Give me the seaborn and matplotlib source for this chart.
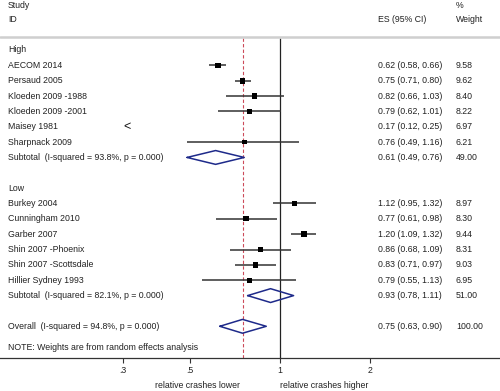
"""
forest plot of relative crash rates, high vs low subgroups
(random effects meta-analysis)
"""

import numpy as np
import pandas as pd
import seaborn as sns
import matplotlib.pyplot as plt
import matplotlib.transforms as mtransforms


# study level data
studies = ["AECOM 2014", "Persaud 2005", "Kloeden 2009 -1988",
           "Kloeden 2009 -2001", "Maisey 1981", "Sharpnack 2009",
           "Burkey 2004", "Cunningham 2010", "Garber 2007",
           "Shin 2007 -Phoenix", "Shin 2007 -Scottsdale", "Hillier Sydney 1993"]
groups = ["High"] * 6 + ["Low"] * 6
es = [0.62, 0.75, 0.82, 0.79, 0.17, 0.76, 1.12, 0.77, 1.20, 0.86, 0.83, 0.79]
lo = [0.58, 0.71, 0.66, 0.62, 0.12, 0.49, 0.95, 0.61, 1.09, 0.68, 0.71, 0.55]
hi = [0.66, 0.80, 1.03, 1.01, 0.25, 1.16, 1.32, 0.98, 1.32, 1.09, 0.97, 1.13]
weight = [9.58, 9.62, 8.40, 8.22, 6.97, 6.21, 8.97, 8.30, 9.44, 8.31, 9.03, 6.95]

# pooled estimates
pool_labels = ["Subtotal  (I-squared = 93.8%, p = 0.000)",
               "Subtotal  (I-squared = 82.1%, p = 0.000)",
               "Overall  (I-squared = 94.8%, p = 0.000)"]
pool_es = [0.61, 0.93, 0.75]
pool_lo = [0.49, 0.78, 0.63]
pool_hi = [0.76, 1.11, 0.90]
pool_weight = [49.00, 51.00, 100.00]

xticks = [0.3, 0.5, 1, 2]
xticklabels = [".3", ".5", "1", "2"]
note = "NOTE: Weights are from random effects analysis"

#############################
# layout parameters
W, H = 500, 391
row_px = 15.35          # pixel height of one row
row0_px = 50            # pixel y of first row
axis_px = 358           # pixel y of x axis line
clip_lo = 0.3           # CI lines clipped here (arrow drawn)
fs = 6.3
#############################

def px2row(p):
    return (p - row0_px) / row_px

def px2val(p):
    return 10 ** ((p - 280) / 300.0)

# build row table
df = pd.DataFrame({"study": studies, "group": groups, "es": es,
                   "lo": lo, "hi": hi, "weight": weight})
rows = []
r = 0
grp_rows = {}
for g in ["High", "Low"]:
    grp_rows[g] = r
    r += 1
    for idx in df.index[df["group"] == g]:
        df.loc[idx, "row"] = r
        r += 1
    rows.append(r)
    r += 2
rows.append(r)  # overall
pool = pd.DataFrame({"label": pool_labels, "es": pool_es, "lo": pool_lo,
                     "hi": pool_hi, "weight": pool_weight, "row": rows})

sns.set_theme(style="white")
plt.rcParams["font.family"] = ["Liberation Sans", "DejaVu Sans"]

fig = plt.figure(figsize=(W / 100, H / 100), dpi=100)
ax = fig.add_axes([0, (H - axis_px) / H, 1, axis_px / H])
ax.set_xscale("log")
ax.set_xlim(px2val(0), px2val(W))
ax.set_ylim(px2row(axis_px), px2row(0))

# reference lines
top = px2row(38)
ax.vlines(1, top, px2row(axis_px), color="#222222", lw=0.9, zorder=1)
ax.vlines(pool["es"].iloc[-1], top, px2row(axis_px), color="#cc4a5a",
          lw=0.8, linestyles=(0, (3, 2)), zorder=1)

# study CIs
for _, d in df.iterrows():
    if d["hi"] < clip_lo:
        ax.text(clip_lo, d["row"], "<", ha="left", va="center",
                fontsize=9, color="#111111")
        continue
    ax.hlines(d["row"], max(d["lo"], clip_lo), d["hi"], color="#333333",
              lw=1.1, zorder=2)

vis = df[df["hi"] >= clip_lo]
sns.scatterplot(data=vis, x="es", y="row", marker="s", color="black",
                size="weight", sizes=(0, 17), size_norm=(0, 10),
                edgecolor="black", linewidth=0, legend=False, zorder=3, ax=ax)

# pooled diamonds
for _, d in pool.iterrows():
    h = 0.45
    xs = [d["lo"], d["es"], d["hi"], d["es"], d["lo"]]
    ys = [d["row"], d["row"] - h, d["row"], d["row"] + h, d["row"]]
    ax.plot(xs, ys, color="#1e2a8a", lw=1.1, zorder=3)

# text columns
tr = mtransforms.blended_transform_factory(ax.transAxes, ax.transData)
x_lab, x_es, x_w = 8 / W, 378 / W, 456 / W
kw = dict(transform=tr, fontsize=fs, va="center", ha="left", color="#222222",
          clip_on=False)
ax.text(x_lab, px2row(5), "Study", **kw)
ax.text(x_lab, px2row(20), "ID", **kw)
ax.text(x_es, px2row(20), "ES (95% CI)", **kw)
ax.text(x_w, px2row(5), "%", **kw)
ax.text(x_w, px2row(20), "Weight", **kw)
ax.plot([0, 1], [px2row(37)] * 2, transform=tr, color="#cfcfcf", lw=1.8,
        clip_on=False)

for g, rr in grp_rows.items():
    ax.text(x_lab, rr, g, **kw)
for _, d in df.iterrows():
    ax.text(x_lab, d["row"], d["study"], **kw)
    ax.text(x_es, d["row"], f"{d['es']:.2f} ({d['lo']:.2f}, {d['hi']:.2f})", **kw)
    ax.text(x_w, d["row"], f"{d['weight']:.2f}", **kw)
for _, d in pool.iterrows():
    ax.text(x_lab, d["row"], d["label"], **kw)
    ax.text(x_es, d["row"], f"{d['es']:.2f} ({d['lo']:.2f}, {d['hi']:.2f})", **kw)
    ax.text(x_w, d["row"], f"{d['weight']:.2f}", **kw)
ax.text(x_lab, px2row(348), note, **kw)

# x axis
for s in ["top", "left", "right"]:
    ax.spines[s].set_visible(False)
ax.spines["bottom"].set_color("#333333")
ax.spines["bottom"].set_linewidth(0.9)
ax.set_xticks(xticks)
ax.set_xticklabels(xticklabels)
ax.xaxis.set_minor_locator(plt.NullLocator())
ax.tick_params(axis="x", bottom=True, length=3.6, width=0.8, color="#333333",
               pad=2.5, labelsize=fs, labelcolor="#222222")
ax.set_yticks([])
ax.set_xlabel("")
ax.set_ylabel("")

ylab = -(385 - axis_px) / axis_px
tr2 = mtransforms.blended_transform_factory(ax.transData, ax.transAxes)
ax.text(0.735, ylab, "relative crashes lower", transform=tr2, fontsize=fs,
        ha="right", va="center", color="#222222")
ax.text(1.0, ylab, "relative crashes higher", transform=tr2, fontsize=fs,
        ha="left", va="center", color="#222222")

plt.savefig("out.png", dpi=100)
